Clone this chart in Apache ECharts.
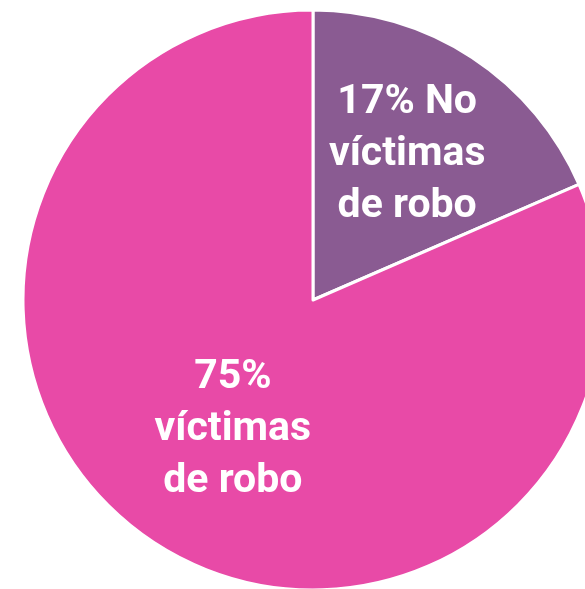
<!DOCTYPE html>
<html><head><meta charset="utf-8">
<script src="https://cdn.jsdelivr.net/npm/echarts@6/dist/echarts.min.js"></script>
<style>html,body{margin:0;padding:0;background:#fff}#c{width:585px;height:589px}</style>
</head><body><div id="c"></div>
<script>
var categories = ['No víctimas de robo', 'víctimas de robo'];
var values = [17, 75];
var labels = ['17% No\nvíctimas\nde robo', '75%\nvíctimas\nde robo'];
var colors = ['#8A5B92', '#E84AA7'];

var chart = echarts.init(document.getElementById('c'));
chart.setOption({
  animation: false,
  series: [{
    type: 'pie',
    center: [313, 300],
    radius: [0, 290],
    startAngle: 90,
    clockwise: true,
    data: categories.map(function (c, i) {
      return {
        name: c, value: values[i],
        itemStyle: { color: colors[i] },
        label: { offset: i === 0 ? [13, -21] : [1, 6] }
      };
    }),
    itemStyle: { borderColor: '#fff', borderWidth: 3 },
    label: {
      show: true, position: 'inside',
      formatter: function (p) { return labels[p.dataIndex]; },
      color: '#fff', fontFamily: 'Roboto', fontWeight: 'bold',
      fontSize: 41, lineHeight: 52, align: 'center'
    },
    labelLine: { show: false },
    emphasis: { disabled: true }
  }]
});
</script></body></html>
